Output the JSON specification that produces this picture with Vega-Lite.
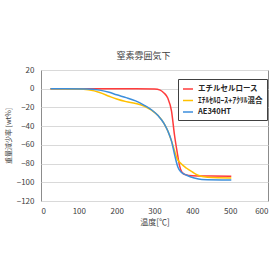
{
  "$schema": "https://vega.github.io/schema/vega-lite/v6.json",
  "width": 227,
  "height": 131,
  "autosize": "none",
  "padding": {"left": 41, "top": 70, "right": 12, "bottom": 79},
  "background": "white",
  "title": {"text": "窒素雰囲気下", "font": "Noto Sans CJK JP", "fontSize": 9, "fontWeight": "normal", "color": "#404040", "offset": 5, "dx": -11},
  "config": {
    "font": "Noto Sans CJK JP",
    "view": {"stroke": "#8c8c8c", "strokeWidth": 1}
  },
  "data": {"values": [
    {"s": "エチルセルロース", "t": 25, "v": 0},
    {"s": "エチルセルロース", "t": 150, "v": 0},
    {"s": "エチルセルロース", "t": 250, "v": 0},
    {"s": "エチルセルロース", "t": 300, "v": -0.3},
    {"s": "エチルセルロース", "t": 315, "v": -1.5},
    {"s": "エチルセルロース", "t": 325, "v": -4.5},
    {"s": "エチルセルロース", "t": 335, "v": -10},
    {"s": "エチルセルロース", "t": 345, "v": -24},
    {"s": "エチルセルロース", "t": 353, "v": -50},
    {"s": "エチルセルロース", "t": 360, "v": -68},
    {"s": "エチルセルロース", "t": 366, "v": -82},
    {"s": "エチルセルロース", "t": 372, "v": -89},
    {"s": "エチルセルロース", "t": 382, "v": -92},
    {"s": "エチルセルロース", "t": 400, "v": -93},
    {"s": "エチルセルロース", "t": 450, "v": -93.3},
    {"s": "エチルセルロース", "t": 503, "v": -93.5},
    {"s": "ｴﾁﾙｾﾙﾛｰｽ+ｱｸﾘﾙ混合", "t": 25, "v": 0},
    {"s": "ｴﾁﾙｾﾙﾛｰｽ+ｱｸﾘﾙ混合", "t": 100, "v": -0.3},
    {"s": "ｴﾁﾙｾﾙﾛｰｽ+ｱｸﾘﾙ混合", "t": 125, "v": -1.2},
    {"s": "ｴﾁﾙｾﾙﾛｰｽ+ｱｸﾘﾙ混合", "t": 155, "v": -4},
    {"s": "ｴﾁﾙｾﾙﾛｰｽ+ｱｸﾘﾙ混合", "t": 180, "v": -8},
    {"s": "ｴﾁﾙｾﾙﾛｰｽ+ｱｸﾘﾙ混合", "t": 200, "v": -11},
    {"s": "ｴﾁﾙｾﾙﾛｰｽ+ｱｸﾘﾙ混合", "t": 225, "v": -13.8},
    {"s": "ｴﾁﾙｾﾙﾛｰｽ+ｱｸﾘﾙ混合", "t": 250, "v": -15.7},
    {"s": "ｴﾁﾙｾﾙﾛｰｽ+ｱｸﾘﾙ混合", "t": 272, "v": -18.5},
    {"s": "ｴﾁﾙｾﾙﾛｰｽ+ｱｸﾘﾙ混合", "t": 292, "v": -23},
    {"s": "ｴﾁﾙｾﾙﾛｰｽ+ｱｸﾘﾙ混合", "t": 310, "v": -29},
    {"s": "ｴﾁﾙｾﾙﾛｰｽ+ｱｸﾘﾙ混合", "t": 325, "v": -37},
    {"s": "ｴﾁﾙｾﾙﾛｰｽ+ｱｸﾘﾙ混合", "t": 335, "v": -45},
    {"s": "ｴﾁﾙｾﾙﾛｰｽ+ｱｸﾘﾙ混合", "t": 345, "v": -56},
    {"s": "ｴﾁﾙｾﾙﾛｰｽ+ｱｸﾘﾙ混合", "t": 352, "v": -65},
    {"s": "ｴﾁﾙｾﾙﾛｰｽ+ｱｸﾘﾙ混合", "t": 360, "v": -75},
    {"s": "ｴﾁﾙｾﾙﾛｰｽ+ｱｸﾘﾙ混合", "t": 370, "v": -80},
    {"s": "ｴﾁﾙｾﾙﾛｰｽ+ｱｸﾘﾙ混合", "t": 385, "v": -85},
    {"s": "ｴﾁﾙｾﾙﾛｰｽ+ｱｸﾘﾙ混合", "t": 400, "v": -89},
    {"s": "ｴﾁﾙｾﾙﾛｰｽ+ｱｸﾘﾙ混合", "t": 415, "v": -92.5},
    {"s": "ｴﾁﾙｾﾙﾛｰｽ+ｱｸﾘﾙ混合", "t": 440, "v": -94.5},
    {"s": "ｴﾁﾙｾﾙﾛｰｽ+ｱｸﾘﾙ混合", "t": 503, "v": -95.3},
    {"s": "AE340HT", "t": 25, "v": 0},
    {"s": "AE340HT", "t": 120, "v": -0.2},
    {"s": "AE340HT", "t": 155, "v": -1.5},
    {"s": "AE340HT", "t": 180, "v": -3.8},
    {"s": "AE340HT", "t": 200, "v": -6.5},
    {"s": "AE340HT", "t": 225, "v": -9.5},
    {"s": "AE340HT", "t": 250, "v": -13},
    {"s": "AE340HT", "t": 272, "v": -17.5},
    {"s": "AE340HT", "t": 292, "v": -22.5},
    {"s": "AE340HT", "t": 310, "v": -29},
    {"s": "AE340HT", "t": 325, "v": -37},
    {"s": "AE340HT", "t": 335, "v": -45},
    {"s": "AE340HT", "t": 345, "v": -56},
    {"s": "AE340HT", "t": 354, "v": -72},
    {"s": "AE340HT", "t": 362, "v": -84},
    {"s": "AE340HT", "t": 370, "v": -89},
    {"s": "AE340HT", "t": 385, "v": -92.5},
    {"s": "AE340HT", "t": 405, "v": -95.5},
    {"s": "AE340HT", "t": 425, "v": -97},
    {"s": "AE340HT", "t": 503, "v": -97.5}
  ]},
  "mark": {"type": "line", "strokeWidth": 1.5, "interpolate": "monotone"},
  "encoding": {
    "x": {"field": "t", "type": "quantitative",
      "scale": {"domain": [0, 600], "nice": false},
      "axis": {"values": [0, 100, 200, 300, 400, 500, 600], "grid": false, "ticks": false, "domain": false,
        "labelFont": "Noto Sans CJK JP", "labelFontSize": 8, "labelColor": "#404040", "labelPadding": 6,
        "title": "温度[℃]", "titleFont": "Noto Sans CJK JP", "titleFontSize": 8, "titleFontWeight": "normal", "titleColor": "#404040", "titlePadding": 3}},
    "y": {"field": "v", "type": "quantitative",
      "scale": {"domain": [-120, 20], "nice": false},
      "axis": {"values": [-120, -100, -80, -60, -40, -20, 0, 20], "grid": true, "gridColor": "#d9d9d9", "ticks": false, "domain": false,
        "labelFont": "Noto Sans CJK JP", "labelFontSize": 8, "labelColor": "#404040", "labelPadding": 7,
        "title": "重量減少率 [wt%]", "titleFont": "Noto Sans CJK JP", "titleFontSize": 7, "titleFontWeight": "normal", "titleColor": "#404040", "titlePadding": 5}},
    "color": {"field": "s", "type": "nominal", "sort": null,
      "scale": {"domain": ["エチルセルロース", "ｴﾁﾙｾﾙﾛｰｽ+ｱｸﾘﾙ混合", "AE340HT"], "range": ["#ff3b3b", "#ffc000", "#3c8edc"]},
      "legend": {"title": null, "orient": "none", "legendX": 137, "legendY": 9,
        "fillColor": "white", "strokeColor": "#404040", "padding": 4, "rowPadding": 1.5,
        "symbolType": "stroke", "symbolStrokeWidth": 1.5, "symbolSize": 100,
        "labelFont": "Noto Sans CJK JP", "labelFontSize": 7.5, "labelFontWeight": "bold", "labelColor": "#262626", "labelLimit": 100}}
  }
}
